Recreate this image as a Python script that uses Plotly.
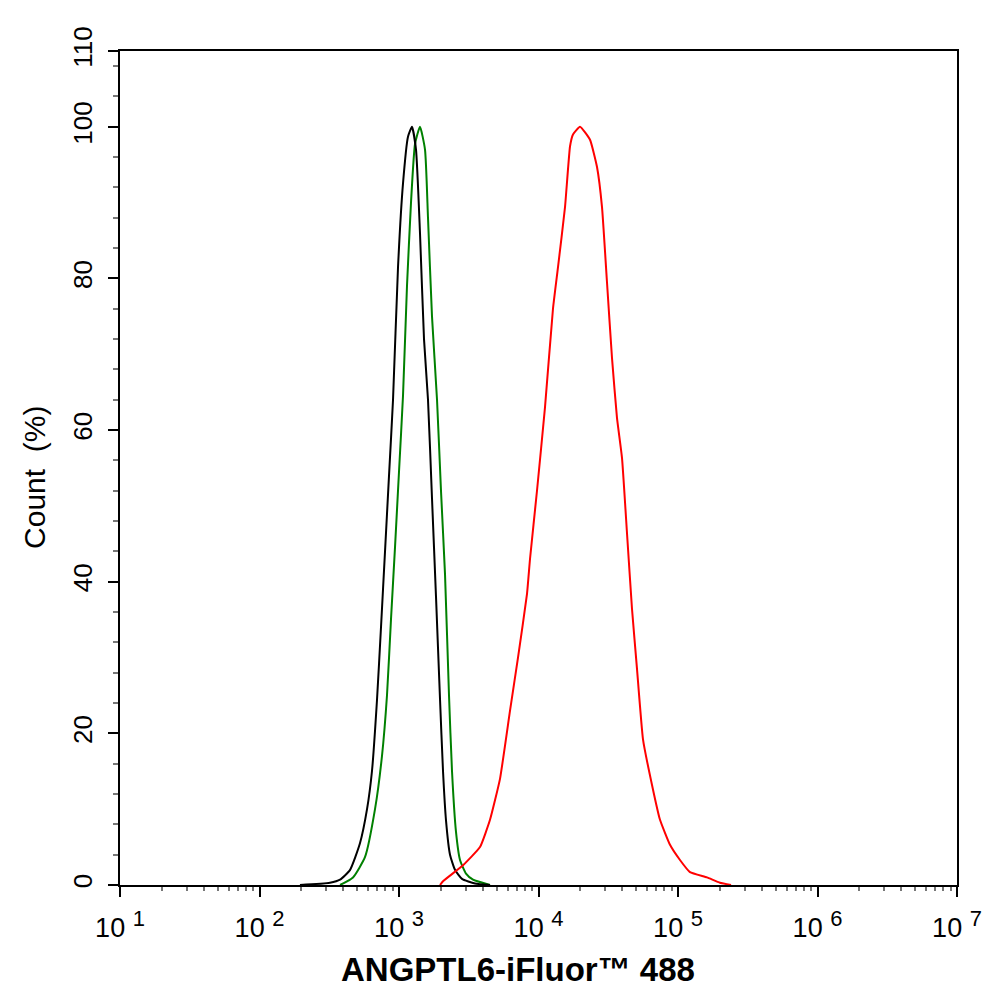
import plotly.graph_objects as go

# black histogram (control)
black_x = [195, 320, 378, 446, 525, 590, 640, 696, 743, 794, 848, 906, 984, 1068,
           1160, 1239, 1324, 1414, 1511, 1614, 1724, 1842, 1968, 2068, 2173, 2321, 2520,
           2829, 3506, 4491]
black_y = [0, 0.3, 0.7, 2, 5.5, 10, 15, 24.5, 34, 44, 54, 64, 81.5, 92.5,
           98.7, 100, 97, 86, 72, 64, 51, 38, 24.5, 15, 8.5, 4, 2,
           0.8, 0.2, 0]

# green histogram
green_x = [378, 468, 571, 673, 755, 820, 876, 936, 1000, 1068, 1141, 1219, 1302,
           1414, 1536, 1614, 1724, 1873, 2000, 2137, 2283, 2399, 2562, 2737, 3022,
           3393, 4491]
green_y = [0, 1, 3.7, 10, 17, 25, 35, 44.5, 54.5, 64.5, 79, 90, 97.7,
           100, 97, 88, 75, 64, 52, 41, 25, 15, 7, 3.3, 1.5,
           0.7, 0]

# red histogram (ANGPTL6)
red_x = [1968, 2068, 2876, 3807, 4491, 5297, 6249, 7129, 8272, 8692, 9754, 11130,
         12700, 13800, 15490, 16820, 17670, 19840, 23400, 26270, 28530, 30970, 33650,
         36530, 39690, 43090, 46810, 50830, 56120, 65120, 74300, 87630, 103300,
         121900, 161400, 200000, 240000]
red_y = [0, 0.5, 2.6, 5, 8.6, 14, 23, 30, 38.4, 43, 52, 63,
         76, 81.5, 89.4, 97.4, 99, 100, 98.3, 94.7, 89.4, 79.5, 69.5,
         61.6, 56.3, 46.4, 36.4, 28.5, 19.2, 13.2, 8.6, 5.3, 3.3,
         1.7, 1, 0.3, 0]

x_ticks = [10, 100, 1000, 10000, 100000, 1000000, 10000000]
x_exps = ['1', '2', '3', '4', '5', '6', '7']
y_ticks = [0, 20, 40, 60, 80, 100, 110]

x_labels = ['10 <sup><span style="font-size:22px">%s</span></sup>' % e for e in x_exps]
x_minor = [m * 10 ** k for k in range(1, 7) for m in range(2, 10)]

fig = go.Figure()
fig.add_trace(go.Scatter(x=green_x, y=green_y, mode='lines',
                         line=dict(color='#008000', width=2, shape='spline', smoothing=0.5)))
fig.add_trace(go.Scatter(x=black_x, y=black_y, mode='lines',
                         line=dict(color='black', width=2, shape='spline', smoothing=0.5)))
fig.add_trace(go.Scatter(x=red_x, y=red_y, mode='lines',
                         line=dict(color='#ff0000', width=2, shape='spline', smoothing=0.4)))

fig.update_xaxes(type='log', range=[1, 7], tickvals=x_ticks, ticktext=x_labels,
                 ticks='outside', ticklen=10, tickwidth=2, tickcolor='black',
                 ticklabelstandoff=8,
                 showline=True, linewidth=2, linecolor='black', mirror=True,
                 showgrid=False, zeroline=False,
                 tickfont=dict(size=27, color='black'),
                 minor=dict(tickmode='array', tickvals=x_minor, ticks='outside',
                            ticklen=4, tickwidth=1.5, tickcolor='#777777', showgrid=False))
fig.update_yaxes(range=[0, 110], tickvals=y_ticks, tickangle=-90,
                 ticks='outside', ticklen=10, tickwidth=2, tickcolor='black',
                 ticklabelstandoff=6,
                 showline=True, linewidth=2, linecolor='black', mirror=True,
                 showgrid=False, zeroline=False,
                 tickfont=dict(size=26, color='black'),
                 minor=dict(tickmode='linear', tick0=0, dtick=4, ticks='outside',
                            ticklen=5, tickwidth=1.5, tickcolor='#777777', showgrid=False))

fig.add_annotation(text='Count\u00a0\u00a0(%)', xref='paper', yref='paper',
                   x=-0.103, y=0.489, textangle=-90, xanchor='center', yanchor='middle',
                   showarrow=False, font=dict(size=30, color='black'))
fig.add_annotation(text='<b>ANGPTL6-iFluor\u2122 488</b>', xref='paper', yref='paper',
                   x=0.476, y=-0.101, xanchor='center', yanchor='middle', showarrow=False,
                   font=dict(size=33, color='black'))

# page body adds an 8px offset, so the figure is 8px smaller than the window
fig.update_layout(width=986, height=994, showlegend=False,
                  margin=dict(l=112, r=37, t=43, b=117),
                  plot_bgcolor='white', paper_bgcolor='white',
                  font=dict(family='Liberation Sans, Arial, sans-serif', color='black'))

fig.write_html('out.html')
